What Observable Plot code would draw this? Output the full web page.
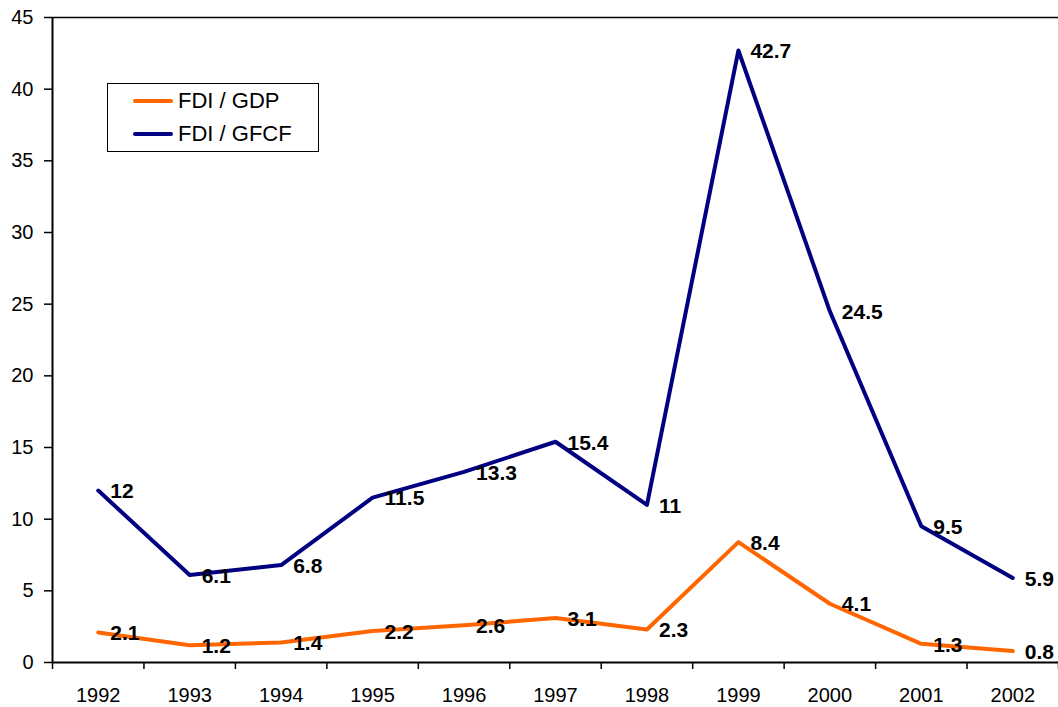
<!DOCTYPE html>
<html>
<head>
<meta charset="utf-8">
<script src="https://cdn.jsdelivr.net/npm/d3@7"></script>
<script src="https://cdn.jsdelivr.net/npm/@observablehq/plot@0.6"></script>
<style>
  html, body { margin: 0; padding: 0; background: #fff; }
  #wrap { position: relative; width: 1058px; height: 707px; font-family: "Liberation Sans", Arial, sans-serif; }
  #legend { position: absolute; left: 107px; top: 83px; width: 210px; height: 67px; border: 1px solid #000; background: #fff; }
  .sw { position: absolute; left: 25px; width: 40px; height: 4px; border-radius: 2px; }
  .lt { position: absolute; left: 70px; font-size: 22px; line-height: 22px; color: #000; }
</style>
</head>
<body>
<div id="wrap">
  <div id="chart"></div>
  <div id="legend">
    <div class="sw" style="top:15px;background:#FF6600"></div>
    <div class="lt" style="top:6px">FDI / GDP</div>
    <div class="sw" style="top:48px;background:#000080"></div>
    <div class="lt" style="top:39px">FDI / GFCF</div>
  </div>
</div>
<script>
const years = [1992, 1993, 1994, 1995, 1996, 1997, 1998, 1999, 2000, 2001, 2002];
const fdiGdp = [2.1, 1.2, 1.4, 2.2, 2.6, 3.1, 2.3, 8.4, 4.1, 1.3, 0.8];
const fdiGfcf = [12, 6.1, 6.8, 11.5, 13.3, 15.4, 11, 42.7, 24.5, 9.5, 5.9];
const yTicks = [0, 5, 10, 15, 20, 25, 30, 35, 40, 45];

const gdpRows = years.map((y, i) => ({year: y, value: fdiGdp[i]}));
const gfcfRows = years.map((y, i) => ({year: y, value: fdiGfcf[i]}));
const boundaries = years.map(y => y - 0.5).concat([years[years.length - 1] + 0.5]);

const chart = Plot.plot({
  width: 1058,
  height: 707,
  marginLeft: 52,
  marginRight: 0,
  marginTop: 17,
  marginBottom: 45,
  style: {fontFamily: '"Liberation Sans", Arial, sans-serif', color: "#000", background: "#fff"},
  x: {type: "linear", domain: [boundaries[0], boundaries[boundaries.length - 1]], axis: null},
  y: {domain: [0, 45], axis: null},
  marks: [
    Plot.axisX(years, {tickSize: 0, tickPadding: 25, tickFormat: d => String(d), fontSize: 20, label: null}),
    Plot.axisX(boundaries, {tickSize: 7, tickFormat: () => "", stroke: "#000", strokeWidth: 1.5, label: null}),
    Plot.axisY(yTicks, {tickSize: 8, tickPadding: 11, fontSize: 20, stroke: "#000", strokeWidth: 1.5, label: null}),
    Plot.ruleY([45], {stroke: "#000", strokeWidth: 1.5}),
    Plot.line(gdpRows, {x: "year", y: "value", stroke: "#FF6600", strokeWidth: 4}),
    Plot.line(gfcfRows, {x: "year", y: "value", stroke: "#000080", strokeWidth: 4}),
    Plot.ruleY([0], {stroke: "#000", strokeWidth: 2}),
    Plot.ruleX([boundaries[0]], {stroke: "#000", strokeWidth: 2}),
    Plot.text(gdpRows, {x: "year", y: "value", text: d => String(d.value), textAnchor: "start", dx: 12, dy: 1, fontSize: 21, fontWeight: "bold", fill: "#000"}),
    Plot.text(gfcfRows, {x: "year", y: "value", text: d => String(d.value), textAnchor: "start", dx: 12, dy: 1, fontSize: 21, fontWeight: "bold", fill: "#000"})
  ]
});
document.getElementById("chart").appendChild(chart);
</script>
</body>
</html>
